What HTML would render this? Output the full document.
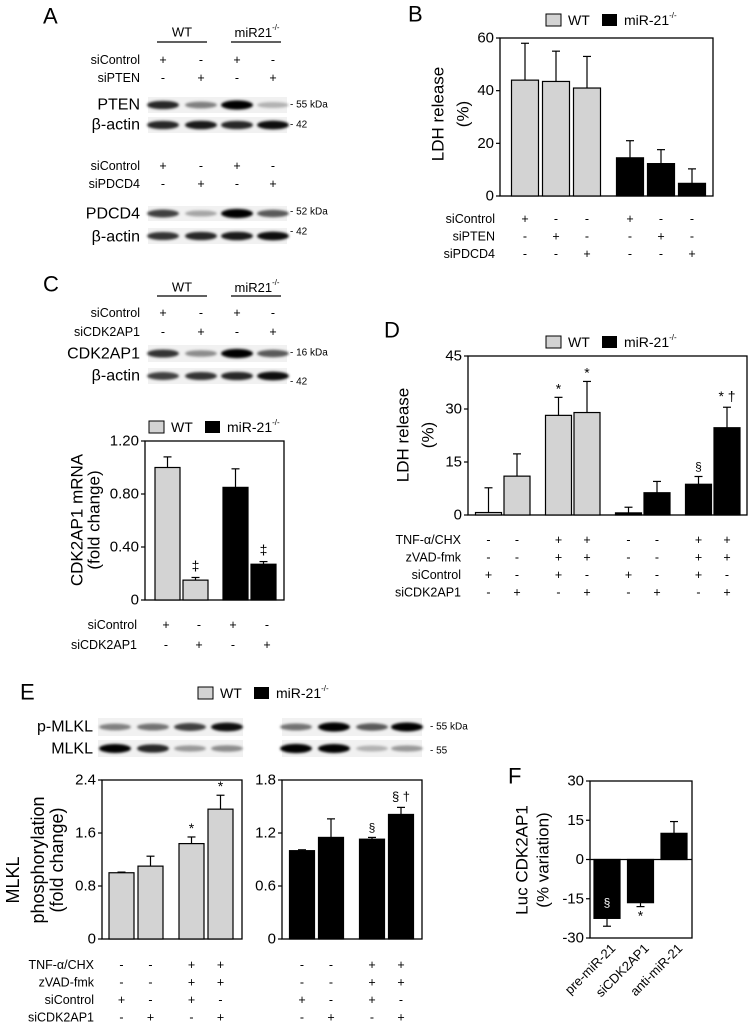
<!DOCTYPE html>
<html><head><meta charset="utf-8"><style>
body{margin:0;background:#fff}
svg{display:block;font-family:"Liberation Sans",Arial,sans-serif}
</style></head><body>
<svg id="fig" width="750" height="1026" viewBox="0 0 750 1026" xmlns="http://www.w3.org/2000/svg">
<defs><filter id="blur" x="-20%" y="-50%" width="140%" height="200%"><feGaussianBlur stdDeviation="1.4"/></filter></defs>
</svg>
<script>
// ===== Panel B data =====
const bCategories = ['WT siControl','WT siPTEN','WT siPDCD4','KO siControl','KO siPTEN','KO siPDCD4'];
const bValues = [44, 43.5, 41, 14.5, 12.3, 4.8];
const bErrTops = [58, 55, 53, 21, 17.6, 10.3];
const bTicks = [0, 20, 40, 60];
// ===== Panel C data =====
const cCategories = ['WT siControl','WT siCDK2AP1','KO siControl','KO siCDK2AP1'];
const cValues = [1.0, 0.15, 0.85, 0.27];
const cErrTops = [1.08, 0.17, 0.99, 0.29];
const cTicks = [0, 0.4, 0.8, 1.2];
const cTickLabels = ['0','0.40','0.80','1.20'];
// ===== Panel D data =====
const dCategories = ['WT1','WT2','WT3','WT4','KO1','KO2','KO3','KO4'];
const dValues = [0.7, 11, 28.2, 29, 0.6, 6.3, 8.7, 24.7];
const dErrTops = [7.7, 17.3, 33.3, 37.8, 2.2, 9.5, 10.9, 30.5];
const dTicks = [0, 15, 30, 45];
// ===== Panel E data =====
const eLeftValues = [1.0, 1.1, 1.44, 1.96];
const eLeftErrTops = [1.01, 1.25, 1.54, 2.17];
const eLeftTicks = [0, 0.8, 1.6, 2.4];
const eRightValues = [1.0, 1.15, 1.13, 1.41];
const eRightErrTops = [1.01, 1.36, 1.15, 1.49];
const eRightTicks = [0, 0.6, 1.2, 1.8];
// ===== Panel F data =====
const fCategories = ['pre-miR-21','siCDK2AP1','anti-miR-21'];
const fValues = [-22.5, -16.5, 10];
const fErrEnds = [-25.5, -18, 14.5];
const fTicks = [-30, -15, 0, 15, 30];

const NS='http://www.w3.org/2000/svg';
const svg=document.getElementById('fig');
function mk(tag,attrs,parent){const e=document.createElementNS(NS,tag);for(const k in attrs)e.setAttribute(k,attrs[k]);(parent||svg).appendChild(e);return e;}
function txt(x,y,s,size,anchor,name,extra){
  const t=mk('text',Object.assign({x:x,y:y,'font-size':size,'text-anchor':anchor||'start','dominant-baseline':'central'},extra||{}));
  t.textContent=s;
  
  
  return t;
}
function line(x1,y1,x2,y2,w,name){
  const l=mk('line',{x1:x1,y1:y1,x2:x2,y2:y2,stroke:'#000','stroke-width':w||1.2});
  
  
  return l;
}
function superLabel(x,y,base,size,name){
  const t=txt(x,y,'',size,'middle',name);
  const a=document.createElementNS(NS,'tspan');a.textContent=base;t.appendChild(a);
  const b=document.createElementNS(NS,'tspan');b.textContent='-/-';b.setAttribute('font-size',size*0.6);b.setAttribute('dy',-size*0.4);t.appendChild(b);
  return t;
}
function legend(x,y,name){
  const g=mk('g',{});
  
  
  const r1=mk('rect',{x:x,y:y-6,width:15,height:12,fill:'#d3d3d3',stroke:'#000','stroke-width':1},g);
  
  
  const t1=mk('text',{x:x+22,y:y,'font-size':14,'dominant-baseline':'central'},g);t1.textContent='WT';
  
  
  const r2=mk('rect',{x:x+56,y:y-6,width:15,height:12,fill:'#000'},g);
  
  
  const t2=mk('text',{x:x+78,y:y,'font-size':14,'dominant-baseline':'central'},g);
  t2.appendChild(document.createTextNode('miR-21'));
  const s=document.createElementNS(NS,'tspan');s.textContent='-/-';s.setAttribute('font-size',8);s.setAttribute('dy',-5);t2.appendChild(s);
  
  
}
function barChart(o){
  const yS=v=>o.y0-(v-o.vmin)/(o.vmax-o.vmin)*(o.y0-o.yTop);
  const g=mk('g',{});
  
  
  const fr=mk('rect',{x:o.xL,y:o.yTop,width:o.xR-o.xL,height:o.y0-o.yTop,fill:'none',stroke:'#000','stroke-width':1.3},g);
  
  
  o.ticks.forEach((t,i)=>{
    const y=yS(t);
    line(o.xL-4,y,o.xL,y,1.2,o.name+'-tick');
    txt(o.xL-6,y,o.tickLabels?o.tickLabels[i]:String(t),15,'end',o.name+'-tick-label');
  });
  const base=yS(o.baseVal||0);
  o.values.forEach((v,i)=>{
    const cx=o.centers[i];
    const yv=yS(v);
    const eY=yS(o.errs[i]);
    line(cx,yv,cx,eY,1.2,o.name+'-error-bar');
    line(cx-4,eY,cx+4,eY,1.2,o.name+'-error-cap');
    const top=Math.min(yv,base),h=Math.abs(base-yv);
    const r=mk('rect',{x:cx-o.w/2,y:top,width:o.w,height:h,fill:o.colors[i],stroke:'#000','stroke-width':1.2},g);
    
    
  });
  if(o.baseVal!==undefined&&o.zeroLine){line(o.xL,base,o.xR,base,1.3,o.name+'-zero-line');}
  return yS;
}
function centers(first,pitch,gap,groupSize,n){const a=[];for(let i=0;i<n;i++)a.push(first+i*pitch+Math.floor(i/groupSize)*gap);return a;}
function signRows(labels,signs,xs,y0,dy,labelRight,name){
  labels.forEach((l,r)=>{
    const y=y0+r*dy;
    if(l)txt(labelRight,y,l,12.5,'end',name+'-row-label');
    signs[r].forEach((s,i)=>txt(xs[i],y,s,12.5,'middle',name+'-sign'));
  });
}
function blot(x1,x2,y1,y2,lanes,ints,name){
  const g=mk('g',{});
  
  
  const r=mk('rect',{x:x1,y:y1,width:x2-x1,height:y2-y1,fill:'#f1f1f1'},g);
  
  
  const cy=(y1+y2)/2;
  lanes.forEach((lx,i)=>{
    const e=mk('ellipse',{cx:lx,cy:cy,rx:16,ry:2.4+ints[i]*2.2,fill:'#000','fill-opacity':Math.min(1,ints[i]*1.05),filter:'url(#blur)'},g);
    
    
  });
}
const GR='#d3d3d3',BK='#000';

// ===== Panel A =====
txt(43,16,'A',22,'start','panel-a-label');
txt(182,32,'WT',13,'middle','a-wt-header');
line(157,42,207,42,1.3,'a-wt-underline');
superLabel(257,32,'miR21',13,'a-ko-header');
line(231,42,281,42,1.3,'a-ko-underline');
const aLanes=[163,201,237,273];
signRows(['siControl','siPTEN'],[['+','-','+','-'],['-','+','-','+']],aLanes,60,18,140,'a-pten');
txt(140,105,'PTEN',16,'end','pten-label');
blot(148,287,97,113,aLanes,[0.8,0.45,1.0,0.25],'pten-blot');
txt(290,105,'- 55 kDa',10,'start','pten-size');
txt(140,125,'β-actin',16,'end','actin-label-1');
blot(148,287,117,133,aLanes,[0.8,0.85,0.8,0.9],'actin-blot-1');
txt(290,125,'- 42',10,'start','actin-size-1');
signRows(['siControl','siPDCD4'],[['+','-','+','-'],['-','+','-','+']],aLanes,166,18,140,'a-pdcd4');
txt(140,214,'PDCD4',16,'end','pdcd4-label');
blot(148,287,206,221,aLanes,[0.7,0.3,1.0,0.6],'pdcd4-blot');
txt(290,212,'- 52 kDa',10,'start','pdcd4-size');
txt(140,237,'β-actin',16,'end','actin-label-2');
blot(148,287,228,244,aLanes,[0.75,0.8,0.85,0.9],'actin-blot-2');
txt(290,232,'- 42',10,'start','actin-size-2');

// ===== Panel B =====
txt(408,14,'B',22,'start','panel-b-label');
legend(546,20,'b-legend');
const bC=centers(525,31,12,3,6);
barChart({name:'b-chart',xL:500,xR:713,yTop:38,y0:196,vmin:0,vmax:60,ticks:bTicks,values:bValues,errs:bErrTops,centers:bC,w:27,colors:[GR,GR,GR,BK,BK,BK]});
txt(0,0,'LDH release',17,'middle','b-y-title',{transform:'translate(438,114) rotate(-90)'});
txt(0,0,'(%)',17,'middle','b-y-title-unit',{transform:'translate(463,114) rotate(-90)'});
signRows(['siControl','siPTEN','siPDCD4'],[['+','-','-','+','-','-'],['-','+','-','-','+','-'],['-','-','+','-','-','+']],bC,219,17.5,495,'b');

// ===== Panel C =====
txt(43,284,'C',22,'start','panel-c-label');
txt(182,287,'WT',13,'middle','c-wt-header');
line(157,296,207,296,1.3,'c-wt-underline');
superLabel(257,287,'miR21',13,'c-ko-header');
line(231,296,281,296,1.3,'c-ko-underline');
signRows(['siControl','siCDK2AP1'],[['+','-','+','-'],['-','+','-','+']],aLanes,313,19,140,'c-blot');
txt(140,354,'CDK2AP1',16,'end','cdk2ap1-label');
blot(148,287,345,362,aLanes,[0.75,0.4,1.0,0.6],'cdk2ap1-blot');
txt(290,353,'- 16 kDa',10,'start','cdk2ap1-size');
txt(140,376,'β-actin',16,'end','actin-label-3');
blot(148,287,368,384,aLanes,[0.7,0.75,0.8,0.9],'actin-blot-3');
txt(290,382,'- 42',10,'start','actin-size-3');
legend(149,427,'c-legend');
const cC=centers(167.5,28,12,2,4);
const cY=barChart({name:'c-chart',xL:145,xR:284,yTop:441,y0:600,vmin:0,vmax:1.2,ticks:cTicks,tickLabels:cTickLabels,values:cValues,errs:cErrTops,centers:cC,w:25,colors:[GR,GR,BK,BK]});
txt(cC[1],cY(cErrTops[1])-12,'‡',14,'middle','c-sig-1');
txt(cC[3],cY(cErrTops[3])-12,'‡',14,'middle','c-sig-2');
txt(0,0,'CDK2AP1 mRNA',17,'middle','c-y-title',{transform:'translate(77,520) rotate(-90)'});
txt(0,0,'(fold change)',17,'middle','c-y-title-unit',{transform:'translate(94,520) rotate(-90)'});
signRows(['siControl','siCDK2AP1'],[['+','-','+','-'],['-','+','-','+']],[166,199,233,267],625,20,137,'c-chart');

// ===== Panel D =====
txt(384,330,'D',22,'start','panel-d-label');
legend(546,342,'d-legend');
const dC=centers(488.5,28.5,13,2,8);
const dY=barChart({name:'d-chart',xL:468,xR:747,yTop:356,y0:515,vmin:0,vmax:45,ticks:dTicks,values:dValues,errs:dErrTops,centers:dC,w:26,colors:[GR,GR,GR,GR,BK,BK,BK,BK]});
txt(dC[2],dY(dErrTops[2])-9,'*',14,'middle','d-sig-1');
txt(dC[3],dY(dErrTops[3])-9,'*',14,'middle','d-sig-2');
txt(dC[6],dY(dErrTops[6])-10,'§',12,'middle','d-sig-3');
txt(dC[7],dY(dErrTops[7])-11,'* †',14,'middle','d-sig-4');
txt(0,0,'LDH release',17,'middle','d-y-title',{transform:'translate(403,435) rotate(-90)'});
txt(0,0,'(%)',17,'middle','d-y-title-unit',{transform:'translate(428,435) rotate(-90)'});
signRows(['TNF-α/CHX','zVAD-fmk','siControl','siCDK2AP1'],[
 ['-','-','+','+','-','-','+','+'],['-','-','+','+','-','-','+','+'],['+','-','+','-','+','-','+','-'],['-','+','-','+','-','+','-','+']],dC,540,17.5,461,'d');

// ===== Panel E =====
txt(20,692,'E',22,'start','panel-e-label');
legend(198,693,'e-legend');
txt(93,727,'p-MLKL',16,'end','p-mlkl-label');
txt(93,749,'MLKL',16,'end','mlkl-label');
blot(98,243,718,736,[115,153,190,227],[0.45,0.5,0.7,0.9],'p-mlkl-blot-wt');
blot(98,243,740,757,[115,153,190,227],[0.95,0.8,0.35,0.4],'mlkl-blot-wt');
blot(282,422,718,736,[296,334,372,407],[0.5,1.0,0.6,0.95],'p-mlkl-blot-ko');
blot(282,422,740,757,[296,334,372,407],[1.0,0.95,0.25,0.35],'mlkl-blot-ko');
txt(430,727,'- 55 kDa',10,'start','p-mlkl-size');
txt(430,751,'- 55',10,'start','mlkl-size');
const eLC=centers(121.5,29,12,2,4);
const eLY=barChart({name:'e-chart-wt',xL:102,xR:242,yTop:780,y0:939,vmin:0,vmax:2.4,ticks:eLeftTicks,values:eLeftValues,errs:eLeftErrTops,centers:eLC,w:25,colors:[GR,GR,GR,GR]});
txt(eLC[2],eLY(eLeftErrTops[2])-9,'*',14,'middle','e-wt-sig-1');
txt(eLC[3],eLY(eLeftErrTops[3])-9,'*',14,'middle','e-wt-sig-2');
const eRC=centers(302,29,12,2,4);
const eRY=barChart({name:'e-chart-ko',xL:282,xR:422,yTop:780,y0:939,vmin:0,vmax:1.8,ticks:eRightTicks,values:eRightValues,errs:eRightErrTops,centers:eRC,w:25,colors:[BK,BK,BK,BK]});
txt(eRC[2],eRY(eRightErrTops[2])-10,'§',12,'middle','e-ko-sig-1');
txt(eRC[3],eRY(eRightErrTops[3])-11,'§ †',13,'middle','e-ko-sig-2');
txt(0,0,'MLKL',18,'middle','e-y-title-1',{transform:'translate(13,880) rotate(-90)'});
txt(0,0,'phosphorylation',18,'middle','e-y-title-2',{transform:'translate(38,860) rotate(-90)'});
txt(0,0,'(fold change)',18,'middle','e-y-title-3',{transform:'translate(57,860) rotate(-90)'});
const eSigns=[['-','-','+','+'],['-','-','+','+'],['+','-','+','-'],['-','+','-','+']];
signRows(['TNF-α/CHX','zVAD-fmk','siControl','siCDK2AP1'],eSigns,eLC,965,17.5,94,'e-wt');
signRows(['','','',''],eSigns,eRC,965,17.5,94,'e-ko');

// ===== Panel F =====
txt(508,776,'F',22,'start','panel-f-label');
const fC=centers(607,33.5,0,3,3);
const fY=barChart({name:'f-chart',xL:590,xR:692,yTop:781,y0:938,vmin:-30,vmax:30,baseVal:0,zeroLine:true,ticks:fTicks,values:fValues,errs:fErrEnds,centers:fC,w:26,colors:[BK,BK,BK]});
txt(fC[0],fY(-16.5),'§',12,'middle','f-sig-1',{fill:'#fff'});
txt(fC[1],fY(fErrEnds[1])+9,'*',14,'middle','f-sig-2');
txt(0,0,'Luc CDK2AP1',17,'middle','f-y-title',{transform:'translate(522,860) rotate(-90)'});
txt(0,0,'(% variation)',17,'middle','f-y-title-unit',{transform:'translate(543,860) rotate(-90)'});
fCategories.forEach((c,i)=>{
  txt(0,0,c,13,'end','f-x-label',{transform:'translate('+(fC[i]+6)+',946) rotate(-45)'});
});
</script>
</body></html>
